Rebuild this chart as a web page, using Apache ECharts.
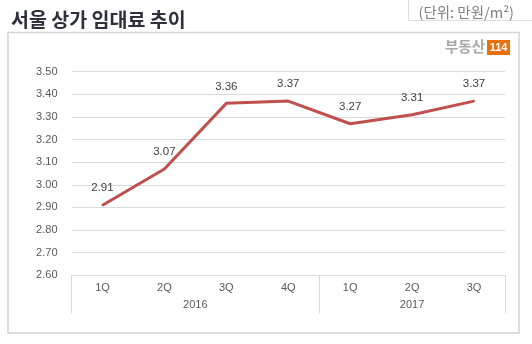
<!DOCTYPE html>
<html>
<head>
<meta charset="utf-8">
<script src="https://cdn.jsdelivr.net/npm/echarts@6/dist/echarts.min.js"></script>
<style>
html,body{margin:0;padding:0;background:#fff;}
#c{width:532px;height:344px;}
</style>
</head>
<body>
<div id="c"></div>
<script>
const quarters = ['1Q','2Q','3Q','4Q','1Q','2Q','3Q'];
const rents = [2.91, 3.07, 3.36, 3.37, 3.27, 3.31, 3.37];
const years = ['2016','2017'];
const yearSpans = [4, 3];
const yTicks = ['2.60','2.70','2.80','2.90','3.00','3.10','3.20','3.30','3.40','3.50'];

// build group boundaries and centres from spans
const bounds = [0];
const centres = [];
yearSpans.forEach(s => { const a = bounds[bounds.length-1]; centres.push(a + s/2); bounds.push(a + s); });
const total = bounds[bounds.length-1];

const font = 'Liberation Sans, Arial, sans-serif';
const kfont = 'Noto Sans CJK KR, sans-serif';
const chart = echarts.init(document.getElementById('c'), null, {renderer:'canvas'});
chart.setOption({
  animation: false,
  backgroundColor: '#fff',
  title: [
    {text: '서울 상가 임대료 추이', left: 6, top: 5,
     textStyle: {fontFamily: kfont, fontSize: 19.5, fontWeight: 'bold', color: '#2f2f3d'}},
    {text: '(단위: 만원/m²)', right: 13, top: 0,
     textStyle: {fontFamily: kfont, fontSize: 14.5, fontWeight: 'normal', color: '#808080'}}
  ],
  graphic: [
    {type: 'rect', shape: {x: 8, y: 32.5, width: 511, height: 300.5}, style: {fill: 'none', stroke: '#d4d4d4', lineWidth: 1.5}, z: -1},
    {type: 'polyline', shape: {points: [[408.5,0],[408.5,20.5],[532,20.5]]}, style: {fill: 'none', stroke: '#dedede', lineWidth: 1}},
    {type: 'text', right: 47, top: 39, style: {text: '부동산', font: 'bold 14.5px ' + kfont, fill: '#a8a8a8'}},
    {type: 'group', left: 487, top: 40, children: [
      {type: 'rect', shape: {x: 0, y: 0, width: 23, height: 15}, style: {fill: '#E8710C'}},
      {type: 'text', x: 11.5, y: 7.5, style: {text: '114', font: 'bold 11px ' + font, fill: '#fff', align: 'center', verticalAlign: 'middle'}}
    ]}
  ],
  grid: {left: 71.5, right: 27, top: 71.7, bottom: 68.7},
  xAxis: [
    {type: 'category', data: quarters, boundaryGap: true,
     axisLine: {show: true, lineStyle: {color: '#d9d9d9', width: 1}},
     axisTick: {show: false},
     axisLabel: {color: '#595959', fontSize: 11, fontFamily: font, margin: 7}},
    {type: 'value', min: 0, max: total, position: 'bottom', gridIndex: 0,
     axisLine: {show: false}, splitLine: {show: false},
     axisTick: {show: true, customValues: bounds, length: 38, lineStyle: {color: '#d9d9d9', width: 1}},
     axisLabel: {show: true, customValues: centres, margin: 24, color: '#595959', fontSize: 11, fontFamily: font,
       formatter: v => { const i = centres.indexOf(v); return i >= 0 ? years[i] : ''; }}}
  ],
  yAxis: {type: 'value', min: 2.6, max: 3.5, interval: 0.1,
    axisLine: {show: false}, axisTick: {show: false},
    splitLine: {lineStyle: {color: '#d9d9d9', width: 1}},
    axisLabel: {color: '#595959', fontSize: 11, fontFamily: font, margin: 14,
      formatter: v => { const i = Math.round((v - 2.6) * 10); return yTicks[i] !== undefined ? yTicks[i] : v.toFixed(2); }}},
  series: [{
    type: 'line', data: rents, xAxisIndex: 0,
    symbol: 'circle', symbolSize: 2,
    itemStyle: {color: '#C0504D'},
    lineStyle: {color: '#C0504D', width: 3},
    label: {show: true, position: 'top', distance: 10, color: '#404040', fontSize: 11.5, fontFamily: font,
      formatter: p => p.value.toFixed(2)}
  }]
});
</script>
</body>
</html>
